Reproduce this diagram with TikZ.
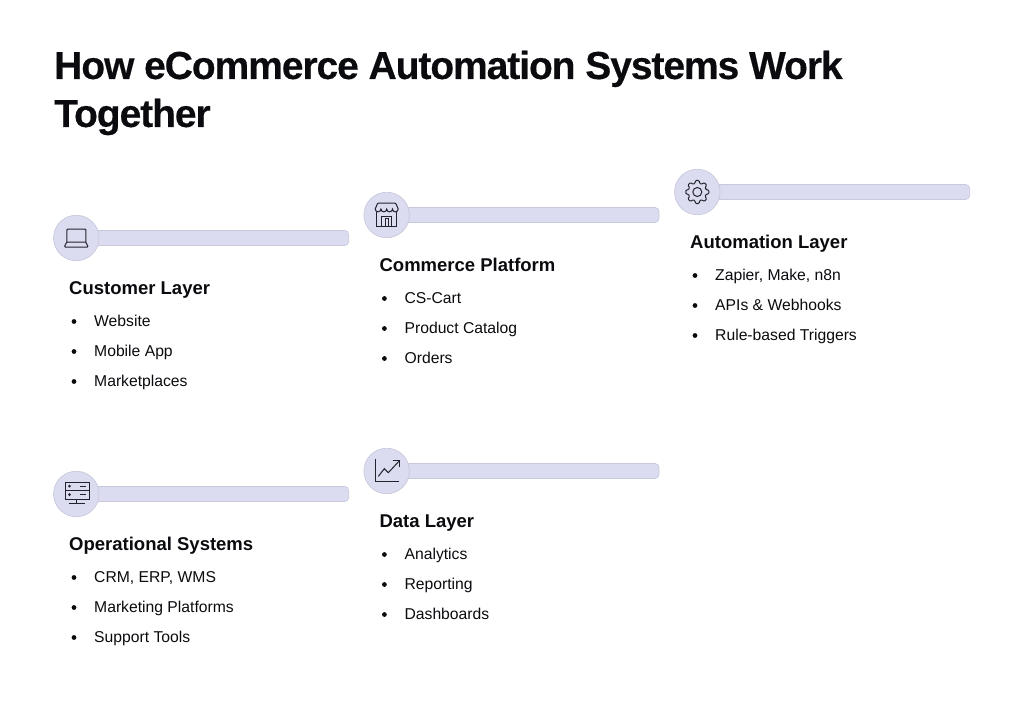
\documentclass[tikz,border=0pt]{standalone}
\usepackage{fontspec}
\setmainfont{Liberation Sans}
\definecolor{layerfill}{HTML}{DCDCF0}
\definecolor{layerline}{HTML}{C9C9DE}
\definecolor{iconink}{HTML}{23232F}
\definecolor{textink}{HTML}{0B0B0F}
\tikzset{
    pics/cust icon/.style={code={
        \draw [myicon,rounded corners=1pt] (-9.5,4) -- (-9.5,-9) -- (9.5,-9) -- (9.5,4);
        \draw [myicon,rounded corners=1pt] (-9.5,4) -- (9.5,4) -- (12,9) -- (-12,9) -- cycle;
    }},
    pics/comm icon/.style={code={
        \draw [myicon] (-10,-3) -- (-10,11) -- (10,11) -- (10,-3);
        \draw [myicon,rounded corners=1pt] (-11.5,-6) -- (-9,-12) -- (9,-12) -- (11.5,-6);
        \draw [myicon] (-11.5,-6) arc (180:0:2.875) arc (180:0:2.875) arc (180:0:2.875) arc (180:0:2.875);
        \draw [myicon] (-5,11) -- (-5,1) -- (5,1) -- (5,11);
        \draw [myicon] (-1.5,11) -- (-1.5,3.5) -- (1.5,3.5) -- (1.5,11);
    }},
    pics/auto icon/.style={code={
        \draw [myicon,rounded corners=1pt] (-15:8.9)
            \foreach \a in {0,45,...,315} { -- (\a-15:8.9) -- (\a-9:11.7) -- (\a+9:11.7) -- (\a+15:8.9) } -- cycle;
        \draw [myicon] (0,0) circle (4.5pt);
    }},
    pics/oper icon/.style={code={
        \draw [myicon] (-11.3,-12) rectangle (12.7,5);
        \draw [myicon] (-11.3,-3.5) -- (12.7,-3.5);
        \fill [iconink] (-6.8,-7.8) circle (1.5pt) (-6.8,0.7) circle (1.5pt);
        \draw [myicon] (4,-7.8) -- (10,-7.8) (4,0.7) -- (10,0.7);
        \draw [myicon] (0.5,5) -- (0.5,9.5) (-7.5,9.5) -- (8.5,9.5);
    }},
    pics/data icon/.style={code={
        \draw [myicon] (-11.4,-11.6) -- (-11.4,10) -- (12.6,10);
        \draw [myicon] (-8.4,5.4) -- (-2.4,-2.3) -- (1.6,1.7) -- (13,-10.6);
        \draw [myicon] (6,-11) -- (13,-11) -- (13,-4);
    }},
}
\begin{document}
\begin{tikzpicture}[%
            x=1pt, y=-1pt,
            myicon/.style={draw=iconink, line width=1pt},
            mycirc/.style={shape=circle, fill=layerfill, draw=layerline, line width=0.7pt, minimum size=45.5pt, inner sep=0pt},
            mybar/.style={shape=rectangle, rounded corners=4pt, fill=layerfill, draw=layerline, line width=0.7pt, minimum width=272pt, minimum height=15pt, inner sep=0pt, anchor=west},
            myhead/.style={anchor=base west, inner sep=0pt, text=textink, font=\fontsize{18.5}{23}\selectfont\bfseries},
            myitem/.style={anchor=base west, inner sep=0pt, text=textink, font=\fontsize{15.7}{20}\selectfont},
            mydot/.style={shape=circle, fill=textink, inner sep=0pt, minimum size=4.8pt},
            mytitle/.style={anchor=north west, align=left, inner sep=0pt, text=textink, font=\fontsize{39}{48}\selectfont\bfseries\addfontfeatures{LetterSpace=-2.75,FakeBold=0.4}}
    ]
        \useasboundingbox (0,0) rectangle (1023,707);

        \node [mytitle] (title) at (54,50.5) {How eCommerce Automation Systems Work\\Together};

        \foreach \nm/\cx/\cy/\head/\itema/\itemb/\itemc in {%
            cust/76.3/238/Customer Layer/Website/Mobile App/Marketplaces,
            comm/386.7/215/Commerce Platform/CS-Cart/Product Catalog/Orders,
            auto/697.3/192/Automation Layer/{Zapier, Make, n8n}/APIs \& Webhooks/Rule-based Triggers,
            oper/76.3/494/Operational Systems/{CRM, ERP, WMS}/Marketing Platforms/Support Tools,
            data/386.7/471/Data Layer/Analytics/Reporting/Dashboards}
        {
            \node [mybar] (bar\nm) at (\cx,\cy) {};
            \node [mycirc] (circ\nm) at (\cx,\cy) {};
            \pic at (circ\nm.center) {\nm\space icon};
            \node [myhead] (head\nm) at (\cx-7.3,\cy+56.4) {\head};
            \foreach \txt [count=\i] in {\itema,\itemb,\itemc} {
                \node [myitem] (item\nm\i) at (\cx+17.7,\cy+58+30*\i) {\txt};
                \node [mydot] (dot\nm\i) at (\cx-2.3,\cy+53.5+30*\i) {};
            }
        }
    \end{tikzpicture}
\end{document}
